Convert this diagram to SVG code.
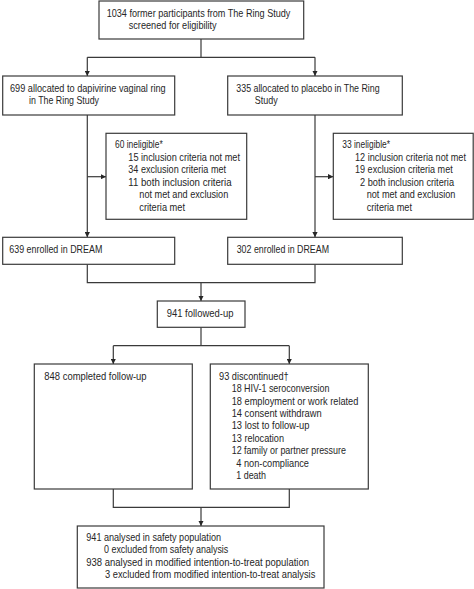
<svg xmlns="http://www.w3.org/2000/svg" width="474" height="589" viewBox="0 0 474 589">
<style>
.box{fill:#fff;stroke:#3a3a3a;stroke-width:1.2}
.ln{fill:none;stroke:#3a3a3a;stroke-width:1.2}
text{font-family:"Liberation Sans",Arial,sans-serif;font-size:11px;fill:#262626}
</style>
<defs>
<marker id="ah" viewBox="0 0 10 10" refX="10" refY="5" markerWidth="5.5" markerHeight="5.5" orient="auto" markerUnits="userSpaceOnUse">
<path d="M0,0 L10,5 L0,10 Z" fill="#262626"/>
</marker>
</defs>
<rect width="474" height="589" fill="#fff"/>
<g id="connectors">
<path class="ln" d="M201,39 V57.3 M87.3,57.3 H315 M87.3,57.3 V76" marker-end="url(#ah)"/>
<path class="ln" d="M315,57.3 V76" marker-end="url(#ah)"/>
<path class="ln" d="M87.3,115 V237.3" marker-end="url(#ah)"/>
<path class="ln" d="M315,115 V237.3" marker-end="url(#ah)"/>
<path class="ln" d="M87.3,176.7 H106" marker-end="url(#ah)"/>
<path class="ln" d="M315,176.7 H333.3" marker-end="url(#ah)"/>
<path class="ln" d="M87.3,264.3 V282.7 H315 V264.3 M201,282.7 V301" marker-end="url(#ah)"/>
<path class="ln" d="M201,327.3 V345.7 M113.3,345.7 H289.3 M113.3,345.7 V364" marker-end="url(#ah)"/>
<path class="ln" d="M289.3,345.7 V364" marker-end="url(#ah)"/>
<path class="ln" d="M113.3,489 V507.3 H289.3 V489 M201,507.3 V526" marker-end="url(#ah)"/>
</g>
<g id="screened">
<rect class="box" x="99" y="1" width="204.7" height="38"/>
<text x="106.7" y="16.7" textLength="183.7" lengthAdjust="spacingAndGlyphs">1034 former participants from The Ring Study</text>
<text x="128.7" y="28.7" textLength="88" lengthAdjust="spacingAndGlyphs">screened for eligibility</text>
</g>
<g id="dapivirine">
<rect class="box" x="2.7" y="76" width="172" height="39"/>
<text x="10" y="92.3" textLength="155.7" lengthAdjust="spacingAndGlyphs">699 allocated to dapivirine vaginal ring</text>
<text x="29" y="104.3" textLength="70" lengthAdjust="spacingAndGlyphs">in The Ring Study</text>
</g>
<g id="placebo">
<rect class="box" x="227.7" y="76" width="174.6" height="39"/>
<text x="236.3" y="92.3" textLength="143.3" lengthAdjust="spacingAndGlyphs">335 allocated to placebo in The Ring</text>
<text x="254.7" y="104.3" textLength="23" lengthAdjust="spacingAndGlyphs">Study</text>
</g>
<g id="ineligible-left">
<rect class="box" x="106" y="133.3" width="140.7" height="86"/>
<text x="115" y="148.3" textLength="47.7" lengthAdjust="spacingAndGlyphs">60 ineligible*</text>
<text x="128.3" y="160.7" textLength="111.7" lengthAdjust="spacingAndGlyphs">15 inclusion criteria not met</text>
<text x="128.3" y="173.3" textLength="97.7" lengthAdjust="spacingAndGlyphs">34 exclusion criteria met</text>
<text x="128.3" y="185.7" textLength="103.3" lengthAdjust="spacingAndGlyphs">11 both inclusion criteria</text>
<text x="139.3" y="198" textLength="89" lengthAdjust="spacingAndGlyphs">not met and exclusion</text>
<text x="139.3" y="210.7" textLength="45.7" lengthAdjust="spacingAndGlyphs">criteria met</text>
</g>
<g id="ineligible-right">
<rect class="box" x="333.3" y="133.3" width="139.9" height="86"/>
<text x="342.3" y="148.3" textLength="47.7" lengthAdjust="spacingAndGlyphs">33 ineligible*</text>
<text transform="translate(355,160.7) scale(0.83,1)">12 inclusion criteria not met</text>
<text x="355" y="173.3" textLength="97.7" lengthAdjust="spacingAndGlyphs">19 exclusion criteria met</text>
<text x="360" y="185.7" textLength="94" lengthAdjust="spacingAndGlyphs">2 both inclusion criteria</text>
<text x="366.7" y="198" textLength="88.7" lengthAdjust="spacingAndGlyphs">not met and exclusion</text>
<text x="366.7" y="210.7" textLength="45.3" lengthAdjust="spacingAndGlyphs">criteria met</text>
</g>
<g id="enrolled-left">
<rect class="box" x="2.7" y="237.3" width="172" height="27"/>
<text x="9.3" y="253.3" textLength="93" lengthAdjust="spacingAndGlyphs">639 enrolled in DREAM</text>
</g>
<g id="enrolled-right">
<rect class="box" x="227.7" y="237.3" width="174.6" height="27"/>
<text x="236.7" y="253.3" textLength="92.3" lengthAdjust="spacingAndGlyphs">302 enrolled in DREAM</text>
</g>
<g id="followed-up">
<rect class="box" x="157.3" y="301" width="87.7" height="26.3"/>
<text x="166.7" y="316.7" textLength="66.7" lengthAdjust="spacingAndGlyphs">941 followed-up</text>
</g>
<g id="completed">
<rect class="box" x="34.3" y="364" width="158" height="125"/>
<text x="44.3" y="380" textLength="102.3" lengthAdjust="spacingAndGlyphs">848 completed follow-up</text>
</g>
<g id="discontinued">
<rect class="box" x="210.3" y="364" width="158" height="125"/>
<text x="219" y="380" textLength="69.7" lengthAdjust="spacingAndGlyphs">93 discontinued†</text>
<text x="231.7" y="392.3" textLength="97.7" lengthAdjust="spacingAndGlyphs">18 HIV-1 seroconversion</text>
<text x="231.7" y="404.7" textLength="126.7" lengthAdjust="spacingAndGlyphs">18 employment or work related</text>
<text x="231.7" y="417" textLength="90" lengthAdjust="spacingAndGlyphs">14 consent withdrawn</text>
<text x="231.7" y="429.3" textLength="77.7" lengthAdjust="spacingAndGlyphs">13 lost to follow-up</text>
<text x="231.7" y="441.7" textLength="52.3" lengthAdjust="spacingAndGlyphs">13 relocation</text>
<text x="231.7" y="454.2" textLength="114.3" lengthAdjust="spacingAndGlyphs">12 family or partner pressure</text>
<text x="236.3" y="466.7" textLength="72.7" lengthAdjust="spacingAndGlyphs">4 non-compliance</text>
<text x="236.3" y="479.2" textLength="29.7" lengthAdjust="spacingAndGlyphs">1 death</text>
</g>
<g id="analysed">
<rect class="box" x="77.3" y="526" width="246.7" height="62"/>
<text x="86.3" y="540.7" textLength="134.7" lengthAdjust="spacingAndGlyphs">941 analysed in safety population</text>
<text x="104" y="553.2" textLength="124.3" lengthAdjust="spacingAndGlyphs">0 excluded from safety analysis</text>
<text x="86.3" y="565.7" textLength="222.7" lengthAdjust="spacingAndGlyphs">938 analysed in modified intention-to-treat population</text>
<text x="105" y="578.2" textLength="210.3" lengthAdjust="spacingAndGlyphs">3 excluded from modified intention-to-treat analysis</text>
</g>
</svg>
